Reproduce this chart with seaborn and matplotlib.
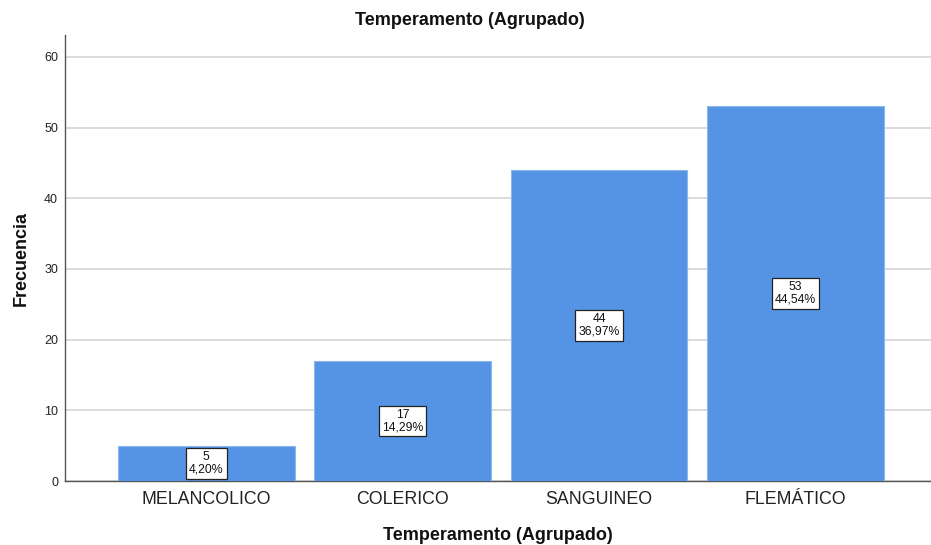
import matplotlib
matplotlib.use("Agg")
import matplotlib.pyplot as plt
import pandas as pd
import seaborn as sns

categories = ["MELANCOLICO", "COLERICO", "SANGUINEO", "FLEMÁTICO"]
counts = [5, 17, 44, 53]
percents = ["4,20%", "14,29%", "36,97%", "44,54%"]
yticks = [0, 10, 20, 30, 40, 50, 60]

df = pd.DataFrame({"temperamento": categories, "frecuencia": counts})

sns.set_theme(style="white")
plt.rcParams["font.family"] = ["Liberation Sans", "DejaVu Sans"]

fig = plt.figure(figsize=(9.31, 5.45), dpi=100)
ax = fig.add_axes([0.0698, 0.1174, 0.9302, 0.8184])

sns.barplot(data=df, x="temperamento", y="frecuencia", color="#5594E4",
            saturation=1, width=0.9, edgecolor="#8DB8EE", linewidth=0.8,
            ax=ax, zorder=3)

ax.set_ylim(0, 63.1)
ax.set_xlim(-0.72, 3.69)
ax.set_yticks(yticks)
ax.yaxis.grid(True, color="#d4d4d4", linewidth=1.2, zorder=0)
ax.set_axisbelow(True)
for s in ["top", "right"]:
    ax.spines[s].set_visible(False)
for s in ["left", "bottom"]:
    ax.spines[s].set_color("#555555")
    ax.spines[s].set_linewidth(1.0)
ax.tick_params(axis="y", length=0, pad=5, labelsize=9, labelcolor="#222222")
ax.tick_params(axis="x", length=0, pad=7, labelsize=12.8, labelcolor="#222222")

for i, (c, p) in enumerate(zip(counts, percents)):
    ax.text(i, c / 2, f"{c}\n{p}", ha="center", va="center", fontsize=8.8,
            linespacing=1.05, color="#111111", zorder=5,
            bbox=dict(boxstyle="square,pad=0.25", facecolor="white",
                      edgecolor="#222222", linewidth=0.9))

ax.set_xlabel("Temperamento (Agrupado)", fontsize=13, fontweight="bold",
              labelpad=14, color="#111111")
ax.set_ylabel("Frecuencia", fontsize=13, fontweight="bold", labelpad=10,
              color="#111111")
fig.text(0.505, 0.962, "Temperamento (Agrupado)", ha="center", va="center",
         fontsize=13, fontweight="bold", color="#111111")

fig.savefig("out.png", dpi=100)
